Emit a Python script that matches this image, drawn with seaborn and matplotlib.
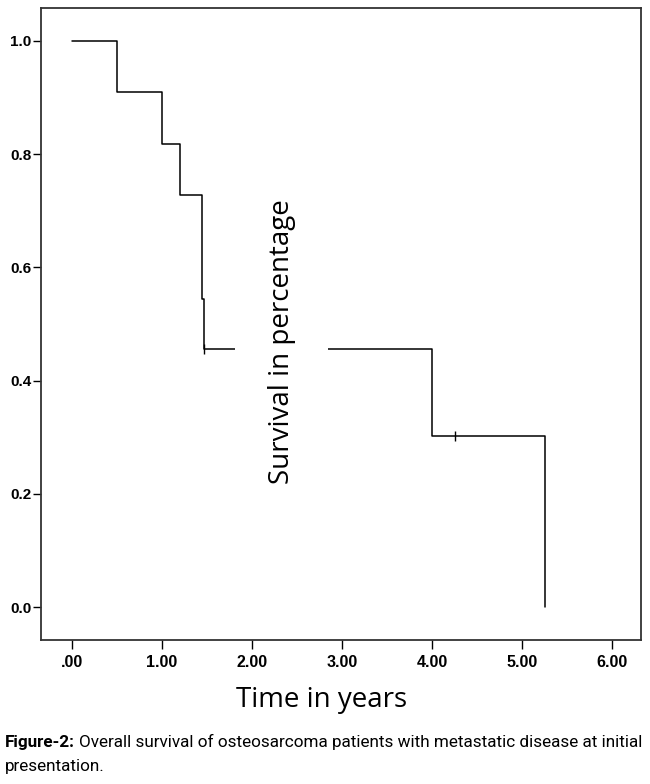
import numpy as np
import pandas as pd
import matplotlib
matplotlib.use("Agg")
import matplotlib.pyplot as plt
import seaborn as sns

# --- dados (Kaplan-Meier) ---
tempo_anos = [0.0, 0.5, 1.0, 1.2, 1.45, 1.465, 4.0, 5.25]
sobrevida = [1.0, 0.909, 0.818, 0.727, 0.545, 0.455, 0.303, 0.0]
tempo_censura = [1.47, 4.25]
sobrevida_censura = [0.455, 0.303]

xticks = [0, 1, 2, 3, 4, 5, 6]
xtick_labels = [".00", "1.00", "2.00", "3.00", "4.00", "5.00", "6.00"]
yticks = [0.0, 0.2, 0.4, 0.6, 0.8, 1.0]
ytick_labels = ["0.0", "0.2", "0.4", "0.6", "0.8", "1.0"]

df_curva = pd.DataFrame({"tempo": tempo_anos, "sobrevida": sobrevida})
df_cens = pd.DataFrame({"tempo": tempo_censura, "sobrevida": sobrevida_censura})

sns.set_style("ticks")
plt.rcParams["font.family"] = ["Liberation Sans", "DejaVu Sans"]
plt.rcParams["text.color"] = "black"
plt.rcParams["xtick.color"] = "black"
plt.rcParams["ytick.color"] = "black"
plt.rcParams["xtick.labelsize"] = 11.5
plt.rcParams["ytick.labelsize"] = 11

fig = plt.figure(figsize=(6.5, 7.84), dpi=100)
ax = fig.add_axes([41 / 650, 1 - 640 / 784, 600 / 650, 632 / 784])

sns.lineplot(data=df_curva, x="tempo", y="sobrevida", drawstyle="steps-post",
             estimator=None, sort=False, color="black", linewidth=1.1, ax=ax)
sns.scatterplot(data=df_cens, x="tempo", y="sobrevida", marker="|", s=60,
                color="black", linewidth=1.0, ax=ax, zorder=3)

ax.set_xlim(-0.344, 6.322)
ax.set_ylim(-0.058, 1.058)
ax.set_xticks(xticks)
ax.set_xticklabels(xtick_labels, fontweight="bold")
ax.set_yticks(yticks)
ax.set_yticklabels(ytick_labels, fontweight="bold")
ax.tick_params(axis="x", length=6.5, width=1.0, pad=4)
ax.tick_params(axis="y", length=6, width=1.0, pad=1)
for sp in ax.spines.values():
    sp.set_linewidth(1.3)
    sp.set_color("#333333")

ax.set_xlabel("")
ax.set_ylabel("")

# rótulo do eixo y desenhado dentro da área, com fundo branco (como no original)
ax.text(0.401, 0.4715, "Survival in percentage", transform=ax.transAxes,
        rotation=90, ha="center", va="center", fontsize=20,
        family=["Open Sans", "DejaVu Sans"], zorder=5,
        bbox=dict(boxstyle="square,pad=1.18", facecolor="white", edgecolor="none"))

fig.text(322 / 650, 1 - 700 / 784, "Time in years", ha="center", va="center",
         fontsize=20, family=["Open Sans", "DejaVu Sans"])

# legenda da figura: ajusta o tamanho para a linha 1 caber entre 5 e 645 px
fam_cap = ["Roboto", "DejaVu Sans"]
linha1 = "Overall survival of osteosarcoma patients with metastatic disease at initial"
tam = 12.0
y1 = 1 - 742 / 784
t1 = fig.text(5 / 650, y1, "Figure-2:", ha="left", va="center",
              fontsize=tam, fontweight="bold", family=fam_cap)
t2 = fig.text(0, y1, linha1, ha="left", va="center", fontsize=tam, family=fam_cap)
for _ in range(3):
    fig.canvas.draw()
    bb1 = t1.get_window_extent()
    t2.set_x((bb1.x1 + 4) / 650)
    fig.canvas.draw()
    largura = t2.get_window_extent().x1 - 5
    tam = tam * 640 / largura
    t1.set_fontsize(tam)
    t2.set_fontsize(tam)
fig.canvas.draw()
t2.set_x((t1.get_window_extent().x1 + 4) / 650)
fig.text(5 / 650, 1 - 767 / 784, "presentation.", ha="left", va="center",
         fontsize=tam, family=fam_cap)

fig.savefig("out.png", dpi=100)
